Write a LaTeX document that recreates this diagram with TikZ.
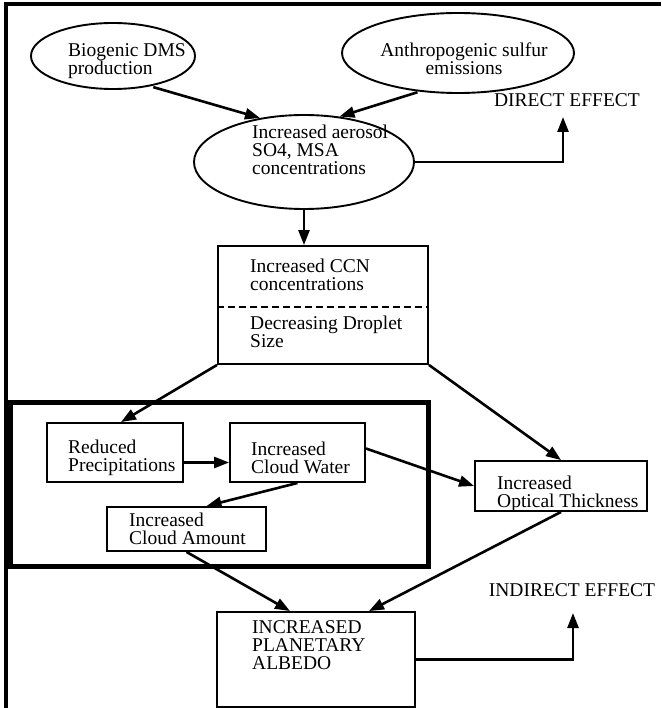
\documentclass[tikz,border=0pt]{standalone}
\usepackage{fontspec}
\setmainfont{Liberation Serif}
\usetikzlibrary{arrows.meta,shapes.geometric}
\tikzset{
  blob/.style={draw, ellipse, line width=1.9pt, inner sep=0pt},
  box/.style={draw, line width=1.9pt, inner sep=0pt},
  txt/.style={align=left, inner sep=0pt, anchor=west},
  tag/.style={inner sep=0pt},
  link/.style={line width=2.6pt, -{Triangle[length=15pt,width=11pt]}},
}
\begin{document}
\begin{tikzpicture}[x=1pt,y=-1pt,font=\fontsize{19.5}{18}\selectfont]
\useasboundingbox (0,0) rectangle (661,708);
% frame
\draw[line width=3.5pt] (6,708) -- (6,4) -- (661,4);

% sources
\node[blob, minimum width=164, minimum height=66] (dms) at (113,56) {};
\node[txt] (dmstxt) at (68,61.5) {Biogenic DMS\\production};
\node[blob, minimum width=232, minimum height=80] (anth) at (458,53) {};
\node[tag, align=center] (anthtxt) at (464,59) {Anthropogenic sulfur\\emissions};

\node[blob, minimum width=220, minimum height=94] (aer) at (304,162) {};
\node[txt] (aertxt) at (252,150) {Increased aerosol\\SO4, MSA\\concentrations};
\node[tag] (direct) at (567,100) {DIRECT EFFECT};
\coordinate (dirtip) at (563,117);

% CCN box, split by the dashed line
\node[box, minimum width=210, minimum height=118] (ccn) at (323,305) {};
\draw[line width=1.7pt, dash pattern=on 7pt off 4pt] (ccn.west |- 0,307) -- (ccn.east |- 0,307);
\node[txt] (ccntxt) at (250,275) {Increased CCN\\concentrations};
\node[txt] (droptxt) at (250,332) {Decreasing Droplet\\Size};

% cloud box
\node[box, line width=5pt, minimum width=418, minimum height=164] (cloud) at (219,484) {};
\node[box, minimum width=136, minimum height=59] (precip) at (115,452.5) {};
\node[txt] (preciptxt) at (68,458) {Reduced\\Precipitations};
\node[box, minimum width=135, minimum height=59] (water) at (297.5,452.5) {};
\node[txt] (watertxt) at (251,458) {Increased\\Cloud Water};
\node[box, minimum width=159, minimum height=44] (amount) at (186.5,529) {};
\node[txt] (amounttxt) at (129,529) {Increased\\Cloud Amount};

\node[box, minimum width=172, minimum height=50] (optic) at (561,486) {};
\node[txt] (optictxt) at (497,494) {Increased\\Optical Thickness};

\node[box, minimum width=198, minimum height=95] (albedo) at (316,659.5) {};
\node[txt] (albedotxt) at (252,645) {INCREASED\\PLANETARY\\ALBEDO};
\node[tag] (indirect) at (572,590) {INDIRECT EFFECT};
\coordinate (indtip) at (573,613);

% arrows
\draw[link, shorten <=3pt] (dms.-39) -- (aer.135);
\draw[link, shorten <=2pt] (anth.-135) -- (aer.52);
\draw[link] (aer.east) -| (dirtip);
\draw[link] (aer.south) -- (aer.south |- ccn.north);
\draw[link] (ccn.south west) -- ([xshift=6pt]precip.north);
\draw[link] (ccn.south east) -- (optic.north);
\draw[link] ([yshift=-10pt]precip.east) -- ([yshift=-10pt]water.west);
\draw[link] ([yshift=4pt]water.east) -- (optic.west);
\draw[link] (water.south) -- ([xshift=20pt]amount.north);
\draw[link] (amount.south) -- ([xshift=-26pt]albedo.north);
\draw[link] (optic.south) -- ([xshift=53pt]albedo.north);
\draw[link] (albedo.east) -| (indtip);
\end{tikzpicture}
\end{document}
